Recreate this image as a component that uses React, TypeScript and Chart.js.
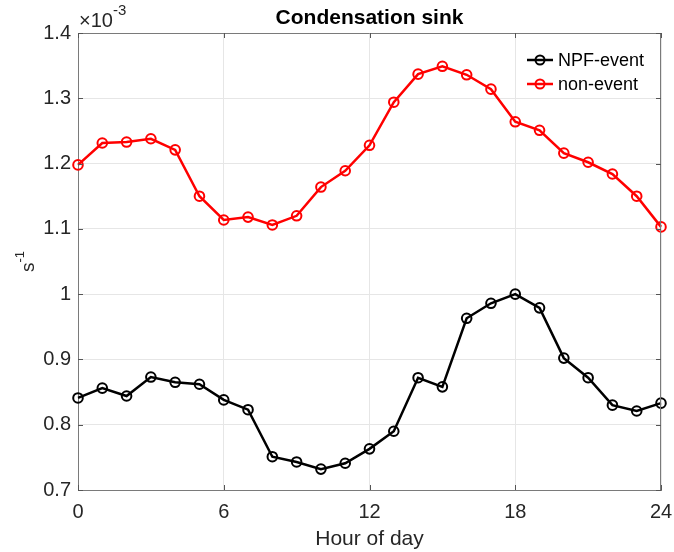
import React, { useEffect, useRef } from "react";
import { Chart, registerables } from "chart.js";

Chart.register(...registerables);

// Hours of day
const hours = [0, 1, 2, 3, 4, 5, 6, 7, 8, 9, 10, 11, 12, 13, 14, 15, 16, 17, 18, 19, 20, 21, 22, 23, 24];
// Condensation sink, units of 1e-3 s^-1
const npfEvent = [0.841, 0.856, 0.844, 0.873, 0.865, 0.862, 0.838, 0.823, 0.751, 0.743, 0.732, 0.741, 0.763, 0.790, 0.872, 0.858, 0.963, 0.986, 1.000, 0.979, 0.902, 0.872, 0.830, 0.821, 0.833];
const nonEvent = [1.198, 1.2315, 1.233, 1.238, 1.221, 1.150, 1.1136, 1.118, 1.106, 1.120, 1.164, 1.189, 1.228, 1.294, 1.337, 1.349, 1.336, 1.314, 1.264, 1.251, 1.216, 1.202, 1.184, 1.150, 1.103];
const seriesNames = ["NPF-event", "non-event"];
const xTicks = [0, 6, 12, 18, 24];
const yTicks = [0.7, 0.8, 0.9, 1.0, 1.1, 1.2, 1.3, 1.4];
const titleText = "Condensation sink";
const xTitle = "Hour of day";

const FONT = "'Liberation Sans', Arial, Helvetica, sans-serif";

const decorPlugin = {
  id: "decor",
  afterDraw(chart: any) {
    const ctx = chart.ctx;
    const a = chart.chartArea;
    const xs = chart.scales.x;
    const ys = chart.scales.y;
    ctx.save();
    // box
    ctx.strokeStyle = "#7a7a7a";
    ctx.lineWidth = 1;
    ctx.beginPath();
    ctx.moveTo(a.left, a.top + 0.5);
    ctx.lineTo(a.right, a.top + 0.5);
    ctx.moveTo(a.right - 0.5, a.top);
    ctx.lineTo(a.right - 0.5, a.bottom);
    ctx.stroke();
    // inward ticks
    ctx.strokeStyle = "#555";
    ctx.beginPath();
    xTicks.forEach((t) => {
      const px = Math.round(xs.getPixelForValue(t)) + 0.5;
      ctx.moveTo(px, a.bottom);
      ctx.lineTo(px, a.bottom - 5);
      ctx.moveTo(px, a.top);
      ctx.lineTo(px, a.top + 5);
    });
    yTicks.forEach((t) => {
      const py = Math.round(ys.getPixelForValue(t)) + 0.5;
      ctx.moveTo(a.left, py);
      ctx.lineTo(a.left + 5, py);
      ctx.moveTo(a.right, py);
      ctx.lineTo(a.right - 5, py);
    });
    ctx.stroke();

    // title
    ctx.fillStyle = "#000";
    ctx.font = `bold 21px ${FONT}`;
    ctx.textAlign = "center";
    ctx.textBaseline = "alphabetic";
    ctx.fillText(titleText, (a.left + a.right) / 2, 24);

    // x10^-3
    ctx.fillStyle = "#262626";
    ctx.textAlign = "left";
    ctx.font = `20px ${FONT}`;
    ctx.fillText("\u00d710", a.left + 1, 27);
    const w = ctx.measureText("\u00d710").width;
    ctx.font = `15px ${FONT}`;
    ctx.fillText("-3", a.left + 1 + w, 15);

    // y-axis title s^-1
    ctx.save();
    ctx.translate(34, (a.top + a.bottom) / 2);
    ctx.rotate(-Math.PI / 2);
    ctx.textAlign = "left";
    ctx.font = `19px ${FONT}`;
    const sw = ctx.measureText("s").width;
    ctx.font = `13px ${FONT}`;
    const supW = ctx.measureText("-1").width;
    const total = sw + supW;
    ctx.font = `19px ${FONT}`;
    ctx.fillText("s", -total / 2, 0);
    ctx.font = `13px ${FONT}`;
    ctx.fillText("-1", -total / 2 + sw, -10);
    ctx.restore();

    // legend
    const ds = chart.data.datasets;
    const lx = a.right - 134;
    ds.forEach((d: any, i: number) => {
      const y = 60 + i * 24;
      ctx.strokeStyle = d.borderColor;
      ctx.lineWidth = 2.5;
      ctx.beginPath();
      ctx.moveTo(lx, y);
      ctx.lineTo(lx + 26, y);
      ctx.stroke();
      ctx.lineWidth = 2;
      ctx.beginPath();
      ctx.arc(lx + 13, y, 4.5, 0, Math.PI * 2);
      ctx.stroke();
      ctx.fillStyle = "#000";
      ctx.font = `18px ${FONT}`;
      ctx.textAlign = "left";
      ctx.textBaseline = "middle";
      ctx.fillText(d.label, lx + 31, y + 1);
    });
    ctx.restore();
  },
};

export default function App() {
  const ref = useRef<HTMLCanvasElement | null>(null);
  useEffect(() => {
    if (!ref.current) return;
    const mk = (vals: number[]) => hours.map((h, i) => ({ x: h, y: vals[i] }));
    const common = {
      borderWidth: 2.5,
      pointRadius: 4.8,
      pointBorderWidth: 2,
      pointBackgroundColor: "rgba(0,0,0,0)",
      pointStyle: "circle",
      tension: 0,
      clip: false as any,
    };
    const chart = new Chart(ref.current, {
      type: "line",
      data: {
        datasets: [
          { label: seriesNames[0], data: mk(npfEvent), borderColor: "#000000", pointBorderColor: "#000000", ...common },
          { label: seriesNames[1], data: mk(nonEvent), borderColor: "#ff0000", pointBorderColor: "#ff0000", ...common },
        ],
      },
      options: {
        animation: false,
        responsive: false,
        layout: { padding: { top: 33, right: 13, left: 0, bottom: 0 } },
        plugins: { legend: { display: false }, title: { display: false }, tooltip: { enabled: false } },
        scales: {
          x: {
            type: "linear",
            min: 0,
            max: 24,
            afterBuildTicks: (s: any) => { s.ticks = xTicks.map((v) => ({ value: v })); },
            afterFit: (s: any) => { s.height = 62; s.paddingRight = 0; s.paddingLeft = 0; },
            ticks: { font: { size: 20, family: FONT }, color: "#262626", padding: 10, maxRotation: 0 },
            grid: { color: "#e6e6e6", drawTicks: false },
            border: { color: "#7a7a7a", width: 1 },
            title: { display: true, text: xTitle, font: { size: 21, family: FONT }, color: "#262626", padding: { top: 7, bottom: 0 } },
          },
          y: {
            min: 0.7,
            max: 1.4,
            afterBuildTicks: (s: any) => { s.ticks = yTicks.map((v) => ({ value: v })); },
            afterFit: (s: any) => { s.width = 78; s.paddingTop = 0; s.paddingBottom = 0; },
            ticks: {
              font: { size: 20, family: FONT },
              color: "#262626",
              padding: 7,
              callback: (v: any) => String(Number(Number(v).toFixed(1))),
            },
            grid: { color: "#e6e6e6", drawTicks: false },
            border: { color: "#7a7a7a", width: 1 },
          },
        },
      } as any,
      plugins: [decorPlugin],
    });
    return () => chart.destroy();
  }, []);
  return (
    <div style={{ position: "absolute", left: 0, top: 0, width: 674, height: 552, background: "#fff" }}>
      <canvas ref={ref} width={674} height={552} style={{ display: "block" }} />
    </div>
  );
}
